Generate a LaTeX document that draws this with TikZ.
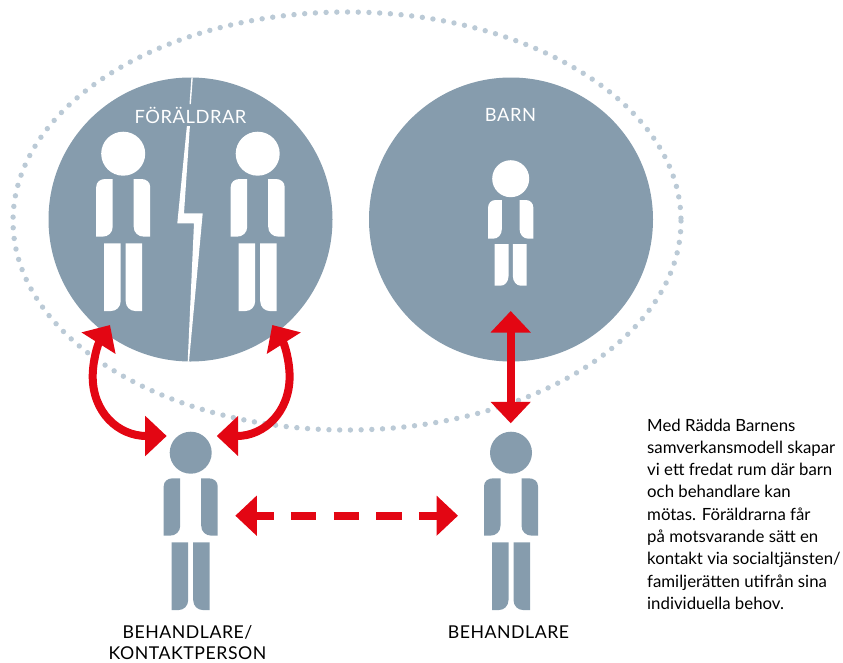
\documentclass[tikz,border=0pt]{standalone}
\usepackage{fontspec}
\setmainfont{Lato}
\newfontfamily\capsfont[LetterSpace=3]{Lato}
\usetikzlibrary{arrows.meta}
\definecolor{slate}{HTML}{869CAD}
\definecolor{dotgrey}{HTML}{BBCAD6}
\definecolor{alarm}{HTML}{E30613}
% #1 name, #2 cx, #3 cy, #4 head radius, #5 x scale, #6-#9 arm top, arm bottom, leg top, leg bottom
\newcommand\personfig[9]{%
  \begin{scope}[shift={(#2,#3)}]
    \node[headdot,minimum size=2*#4pt,fill=\figcol] (#1) at (0,0) {};
    \foreach \s in {1,-1}{
      \fill[\figcol,xscale=\s*#5]
        (-27,#7) -- (-27,#6+8) .. controls (-27,#6+3) and (-23,#6) .. (-18,#6)
        -- (-10.5,#6) -- (-10.5,#7-10) .. controls (-10.5,#7-4) and (-15,#7) .. (-21,#7) -- cycle;
      \fill[\figcol,xscale=\s*#5]
        (-19,#8) -- (-2.5,#8) -- (-2.5,#9-10) .. controls (-2.5,#9-4) and (-7,#9) .. (-12,#9)
        -- (-19,#9) -- cycle;
    }
  \end{scope}}
\tikzset{
  bigdisc/.style={circle,fill=slate,minimum size=284pt,inner sep=0pt},
  headdot/.style={circle,inner sep=0pt},
  dotring/.style={draw=dotgrey,line width=5.4pt,line cap=round,dash pattern=on 0pt off 10.72pt},
  redlink/.style={draw=alarm,line width=8pt,{Triangle[length=21.5pt,width=39pt,fill=alarm]}-{Triangle[length=21.5pt,width=39pt,fill=alarm]}},
  whitelabel/.style={text=white,font=\capsfont\fontsize{18.3}{20}\selectfont,inner sep=0pt},
  blacklabel/.style={text=black,font=\capsfont\fontsize{17.7}{21.7}\selectfont,inner sep=0pt,anchor=base},
  bodytext/.style={text=black,font=\fontsize{16.8}{22.3}\selectfont,inner sep=0pt,align=left,anchor=north west}
}
\begin{document}
\begin{tikzpicture}[x=1pt,y=-1pt]
\useasboundingbox (0,0) rectangle (843,662);
\draw[dotring] (347,221) ellipse [x radius=334,y radius=209];
\node[bigdisc] (parents) at (190.5,219.5) {};
\node[bigdisc] (child) at (511,219.5) {};
% lightning
\fill[white] (191.4,77.5) -- (192.8,77.5) -- (190.9,104) -- (189.5,104) -- cycle;
\fill[white] (186.9,126) -- (189.9,126) -- (184,213.3) -- (202.7,213.3) -- (189,361.7)
  -- (187.7,361.7) -- (194,223.3) -- (177.3,223.3) -- cycle;
\node[whitelabel] (tparents) at (190.5,115) {FÖRÄLDRAR};
\node[whitelabel] (tchild) at (510.5,115) {BARN};
\def\figcol{white}
\personfig{pa}{123.2}{153.7}{22}{1}{25.3}{83}{89.6}{157.3}
\personfig{pb}{257.7}{153.7}{22}{1}{25.3}{83}{89.6}{157.3}
\personfig{pc}{510.7}{178.7}{18.5}{0.84}{21.3}{60}{65.3}{107}
\def\figcol{slate}
\personfig{pd}{190.7}{452.7}{21}{1}{25.6}{83}{89.6}{157.3}
\personfig{pe}{511}{452.7}{21}{1}{25.6}{83}{89.6}{157.3}
% connectors
\coordinate (la) at (110,325);
\coordinate (lb) at (166.7,436);
\coordinate (ra) at (272.3,325);
\coordinate (rb) at (216.7,436);
\coordinate (va) at (510.7,311);
\coordinate (vb) at (510.7,423.3);
\coordinate (ha) at (235.3,515.7);
\coordinate (hb) at (458,515.7);
\draw[redlink] (la) .. controls (98,344) and (92.7,360) .. (92.7,376.7) .. controls (92.7,412) and (118,436) .. (lb);
\draw[redlink] (ra) .. controls (284.3,344) and (289.6,360) .. (289.6,376.7) .. controls (289.6,412) and (264.3,436) .. (rb);
\draw[redlink] (va) -- (vb);
\draw[redlink,dash pattern=on 25.4pt off 17.2pt,dash phase=7.1pt] (ha) -- (hb);
% labels
\node[blacklabel] (tbk) at (187.5,638.3) {BEHANDLARE/};
\node[blacklabel] (tkp) at (187.5,659.6) {KONTAKTPERSON};
\node[blacklabel] (tb) at (508.5,638.3) {BEHANDLARE};
\node[bodytext] (para) at (647,418.5) {Med Rädda Barnens\\samverkansmodell skapar\\vi ett fredat rum där barn\\och behandlare kan\\mötas. Föräldrarna får\\på motsvarande sätt en\\kontakt via socialtjänsten/\\familjerätten utifrån sina\\individuella behov.};
\end{tikzpicture}
\end{document}
